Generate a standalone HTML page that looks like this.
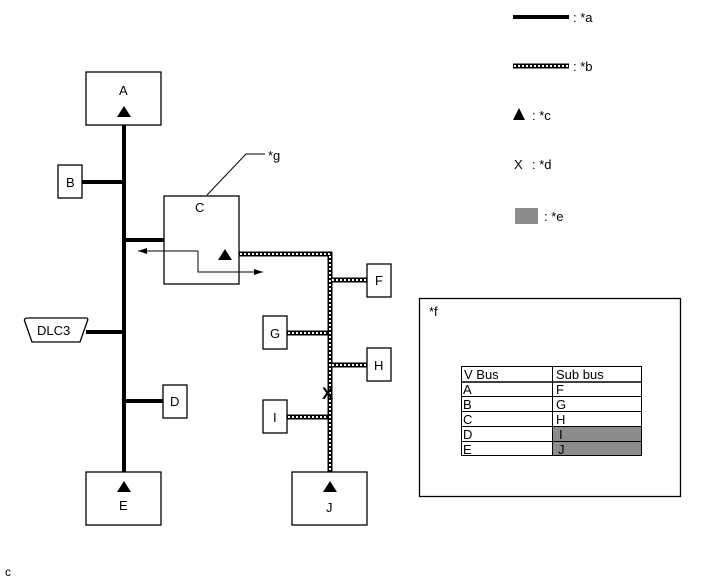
<!DOCTYPE html>
<html><head><style>
html,body{margin:0;padding:0;background:#fff;width:713px;height:581px;overflow:hidden}
svg text{font-family:"Liberation Sans",Arial,sans-serif;font-size:13px;fill:#000}
</style></head><body>
<svg width="713" height="581" viewBox="0 0 713 581" xmlns="http://www.w3.org/2000/svg">
<defs>
<marker id="ah" markerWidth="10" markerHeight="8" refX="9" refY="4" orient="auto" markerUnits="userSpaceOnUse">
<path d="M0,1 L9,4 L0,7 Z" fill="#000"/></marker>
</defs>
<!-- legend -->
<line x1="513" y1="17" x2="569" y2="17" stroke="#000" stroke-width="4"/>
<text x="573" y="22">: *a</text>
<line x1="513" y1="66" x2="569" y2="66" stroke="#000" stroke-width="5"/>
<line x1="514" y1="66" x2="569" y2="66" stroke="#fff" stroke-width="2" stroke-dasharray="2 2"/>
<text x="573" y="71">: *b</text>
<path d="M513,120 L519,108 L525,120 Z" fill="#000"/>
<text x="532" y="120">: *c</text>
<text x="514" y="169">X</text>
<text x="532" y="169">: *d</text>
<rect x="515" y="208" width="23" height="16" fill="#8c8c8c"/>
<text x="544" y="221">: *e</text>

<!-- main bus -->
<line x1="124" y1="125" x2="124" y2="472" stroke="#000" stroke-width="4"/>
<line x1="82" y1="182" x2="124" y2="182" stroke="#000" stroke-width="4"/>
<line x1="124" y1="240" x2="164" y2="240" stroke="#000" stroke-width="4"/>
<line x1="86" y1="332" x2="124" y2="332" stroke="#000" stroke-width="4"/>
<line x1="124" y1="401" x2="163" y2="401" stroke="#000" stroke-width="4"/>

<!-- sub bus -->
<g stroke="#000" stroke-width="5" fill="none">
<path d="M239,254 H330 V472"/>
<line x1="330" y1="280" x2="367" y2="280"/>
<line x1="287" y1="333" x2="330" y2="333"/>
<line x1="330" y1="365" x2="367" y2="365"/>
<line x1="287" y1="417" x2="330" y2="417"/>
</g>
<g stroke="#fff" stroke-width="2" stroke-dasharray="2 2" fill="none">
<path d="M240,254 H330 V472"/>
<line x1="332" y1="280" x2="367" y2="280"/>
<line x1="288" y1="333" x2="328" y2="333"/>
<line x1="332" y1="365" x2="367" y2="365"/>
<line x1="288" y1="417" x2="328" y2="417"/>
</g>
<text x="322" y="399" style="font-size:17px;font-weight:bold">X</text>

<!-- boxes -->
<g fill="#fff" stroke="#000" stroke-width="1.3">
<rect x="86" y="72" width="75" height="53"/>
<rect x="58" y="165" width="24" height="33"/>
<rect x="164" y="196" width="75" height="88"/>
<rect x="163" y="385" width="24" height="33"/>
<rect x="86" y="472" width="75" height="53"/>
<rect x="367" y="264" width="24" height="33"/>
<rect x="263" y="316" width="24" height="33"/>
<rect x="367" y="348" width="24" height="33"/>
<rect x="263" y="400" width="24" height="33"/>
<rect x="292" y="472" width="75" height="53"/>
<path d="M28,318 H86 Q89,318 87,322 L80,342 H32 L25,322 Q23,318 28,318 Z"/>
</g>
<text x="119" y="95">A</text>
<path d="M117,117 L124,106 L131,117 Z" fill="#000"/>
<text x="66" y="187">B</text>
<text x="195" y="212">C</text>
<path d="M218,260 L225,249 L232,260 Z" fill="#000"/>
<text x="170" y="406">D</text>
<path d="M117,492 L124,481 L131,492 Z" fill="#000"/>
<text x="119" y="510">E</text>
<text x="375" y="285">F</text>
<text x="270" y="338">G</text>
<text x="374" y="370">H</text>
<text x="273" y="422">I</text>
<path d="M323,492 L330,481 L337,492 Z" fill="#000"/>
<text x="326" y="512">J</text>
<text x="37" y="335">DLC3</text>

<!-- arrow -->
<path d="M198,251 H138" stroke="#000" stroke-width="1" fill="none" marker-end="url(#ah)"/>
<path d="M198,251 V272 H263" stroke="#000" stroke-width="1" fill="none" marker-end="url(#ah)"/>

<!-- *g leader -->
<path d="M207,195 L246,154 H265" stroke="#000" stroke-width="1" fill="none"/>
<text x="268" y="160">*g</text>

<!-- table box -->
<rect x="419.5" y="298.5" width="261" height="198" fill="#fff" stroke="#000" stroke-width="1.3"/>
<text x="429" y="316">*f</text>
<rect x="552" y="426" width="90" height="30" fill="#8c8c8c"/>
<g stroke="#000" stroke-width="1" fill="none">
<rect x="461.5" y="366.5" width="180" height="89"/>
<line x1="461" y1="382" x2="642" y2="382" stroke-width="1.5"/>
<line x1="461" y1="396.5" x2="642" y2="396.5"/>
<line x1="461" y1="411.5" x2="642" y2="411.5"/>
<line x1="461" y1="426.5" x2="642" y2="426.5"/>
<line x1="461" y1="441.5" x2="642" y2="441.5"/>
<line x1="552.5" y1="366" x2="552.5" y2="456"/>
</g>
<g style="font-size:13px">
<text x="464" y="379">V Bus</text><text x="556" y="379">Sub bus</text>
<text x="463" y="394">A</text><text x="556" y="394">F</text>
<text x="463" y="409">B</text><text x="556" y="409">G</text>
<text x="463" y="424">C</text><text x="556" y="424">H</text>
<text x="463" y="439">D</text><text x="559" y="439">I</text>
<text x="463" y="454">E</text><text x="558" y="454">J</text>
</g>
<text x="5" y="576" style="font-size:12px">c</text>
</svg>
</body></html>
